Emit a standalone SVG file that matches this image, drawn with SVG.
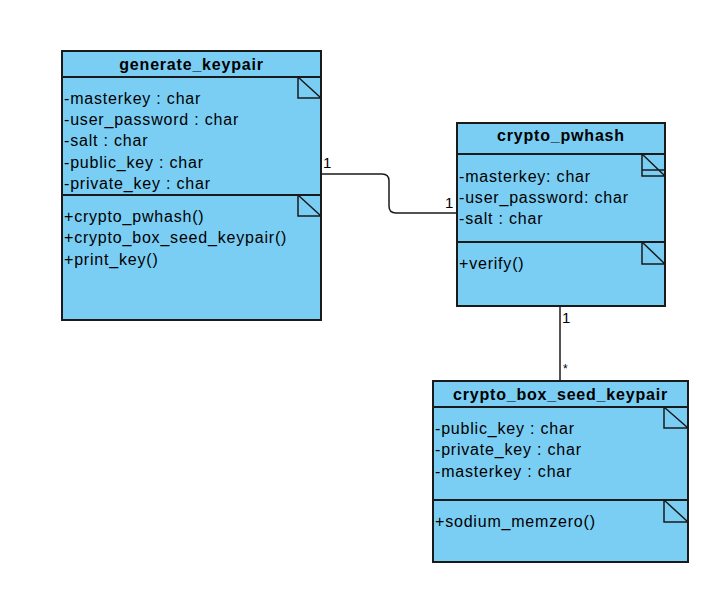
<svg xmlns="http://www.w3.org/2000/svg" width="714" height="594" viewBox="0 0 714 594">
  <style>
    .box { fill: #7acef4; stroke: #1a1a1a; stroke-width: 2; }
    .sep { stroke: #1a1a1a; stroke-width: 2; fill: none; }
    .note { stroke: #1a1a1a; stroke-width: 1.5; fill: none; }
    .title { font-family: "Liberation Sans", Arial, sans-serif; font-size: 16px; font-weight: bold; letter-spacing: 0.8px; fill: #000; text-anchor: middle; }
    .item { font-family: "Liberation Sans", Arial, sans-serif; font-size: 16px; letter-spacing: 0.8px; fill: #000; }
    .mult { font-family: "Liberation Sans", Arial, sans-serif; font-size: 15px; fill: #000; }
    .conn { stroke: #1a1a1a; stroke-width: 1.5; fill: none; }
  </style>
  <rect width="714" height="594" fill="#ffffff"/>

  <!-- associations -->
  <g id="connectors">
    <path class="conn" d="M321,174 H382 Q389,174 389,181 V206 Q389,213 396,213 H457"/>
    <path class="conn" d="M560,306 V381"/>
    <text class="mult" x="323" y="168">1</text>
    <text class="mult" x="445" y="208">1</text>
    <text class="mult" x="562" y="323">1</text>
    <text class="mult" x="563" y="373" style="font-size:12px">*</text>
  </g>

  <!-- class generate_keypair -->
  <g id="generate_keypair">
    <rect class="box" x="62" y="51" width="259" height="269"/>
    <line class="sep" x1="62" y1="77" x2="321" y2="77"/>
    <line class="sep" x1="62" y1="195" x2="321" y2="195"/>
    <path class="note" d="M298,77 V98 H321 M298,77 L321,98"/>
    <path class="note" d="M298,195 V216 H321 M298,195 L321,216"/>
    <text class="title" x="191.5" y="70">generate_keypair</text>
    <text class="item" x="64" y="104">-masterkey : char</text>
    <text class="item" x="64" y="125">-user_password : char</text>
    <text class="item" x="64" y="146">-salt : char</text>
    <text class="item" x="64" y="168">-public_key : char</text>
    <text class="item" x="64" y="189">-private_key : char</text>
    <text class="item" x="64" y="222">+crypto_pwhash()</text>
    <text class="item" x="64" y="243">+crypto_box_seed_keypair()</text>
    <text class="item" x="64" y="265">+print_key()</text>
  </g>

  <!-- class crypto_pwhash -->
  <g id="crypto_pwhash">
    <rect class="box" x="457" y="123" width="208" height="183"/>
    <line class="sep" x1="457" y1="154" x2="665" y2="154"/>
    <line class="sep" x1="457" y1="242" x2="665" y2="242"/>
    <path class="note" d="M642,154 V176 H665 M642,154 L665,176 M642,170 H665"/>
    <path class="note" d="M642,242 V264 H665 M642,242 L665,264"/>
    <text class="title" x="561" y="141">crypto_pwhash</text>
    <text class="item" x="459" y="182">-masterkey: char</text>
    <text class="item" x="459" y="203">-user_password: char</text>
    <text class="item" x="459" y="224">-salt : char</text>
    <text class="item" x="459" y="269">+verify()</text>
  </g>

  <!-- class crypto_box_seed_keypair -->
  <g id="crypto_box_seed_keypair">
    <rect class="box" x="433" y="381" width="255" height="181"/>
    <line class="sep" x1="433" y1="407" x2="688" y2="407"/>
    <line class="sep" x1="433" y1="500" x2="688" y2="500"/>
    <path class="note" d="M664,407 V428 H688 M664,407 L688,428"/>
    <path class="note" d="M664,500 V522 H688 M664,500 L688,522"/>
    <text class="title" x="560.5" y="400">crypto_box_seed_keypair</text>
    <text class="item" x="435" y="434">-public_key : char</text>
    <text class="item" x="435" y="455">-private_key : char</text>
    <text class="item" x="435" y="477">-masterkey : char</text>
    <text class="item" x="435" y="527">+sodium_memzero()</text>
  </g>
</svg>
